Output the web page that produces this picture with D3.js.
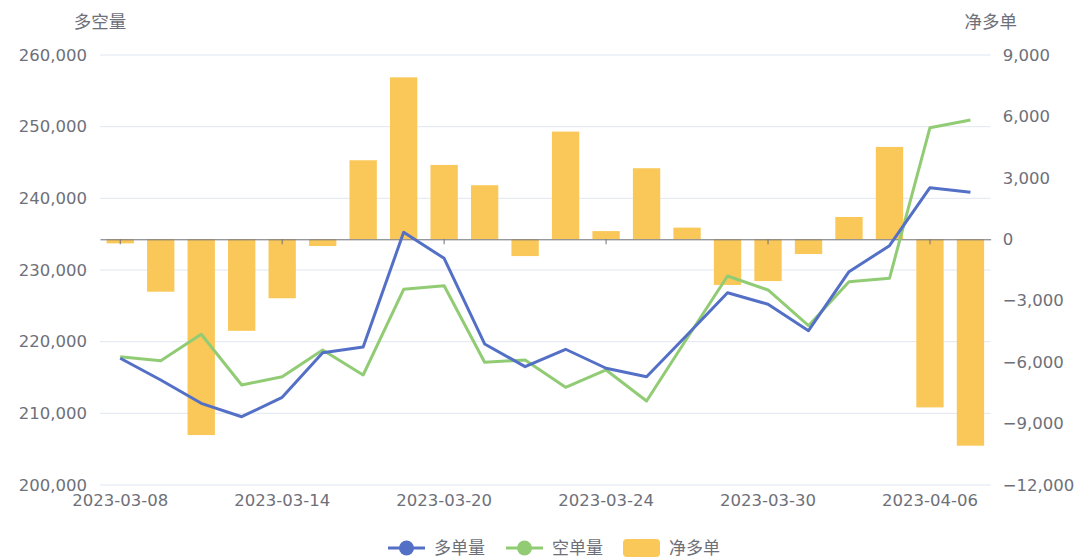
<!DOCTYPE html>
<html>
<head>
<meta charset="utf-8">
<script src="https://cdn.jsdelivr.net/npm/d3@7"></script>
<style>
  body { margin: 0; background: #fff; }
  #chart { width: 1074px; height: 559px; }
</style>
</head>
<body>
<div id="chart"></div>
<script>
// dates on the x axis (trading days)
const dates = ['2023-03-08', '2023-03-09', '2023-03-10', '2023-03-13', '2023-03-14', '2023-03-15',
  '2023-03-16', '2023-03-17', '2023-03-20', '2023-03-21', '2023-03-22', '2023-03-23',
  '2023-03-24', '2023-03-27', '2023-03-28', '2023-03-29', '2023-03-30', '2023-03-31',
  '2023-04-03', '2023-04-04', '2023-04-06', '2023-04-07'];

// 多单量 (left axis)
const longVol = [217680, 214650, 211400, 209530, 212240, 218460, 219260, 235260, 231630, 219680, 216510,
  218940, 216290, 215110, 220930, 226830, 225220, 221530, 229760, 233390, 241490, 240840];
// 空单量 (left axis)
const shortVol = [217900, 217350, 221030, 213950, 215110, 218840, 215350, 227310, 227810, 217120, 217440,
  213630, 216050, 211720, 220470, 229160, 227210, 222230, 228370, 228840, 249860, 250930];
// 净多单 (right axis)
const netLong = [-200, -2560, -9560, -4470, -2880, -330, 3860, 7910, 3630, 2640, -820,
  5260, 400, 3470, 570, -2230, -2040, -720, 1090, 4510, -8210, -10080];

const leftTicks = [200000, 210000, 220000, 230000, 240000, 250000, 260000];
const rightTicks = [-12000, -9000, -6000, -3000, 0, 3000, 6000, 9000];
const shownDates = dates.filter((d, i) => i % 4 === 0);

const gridL = 100, gridR = 990.7, gridT = 55, gridB = 485;
const gray = '#6E7079';
const numFont = 'DejaVu Sans, sans-serif';
const cjkFont = '"Noto Sans CJK SC", sans-serif';

const svg = d3.select('#chart').append('svg')
  .attr('width', 1074).attr('height', 559);

const x = d3.scaleBand().domain(dates).range([gridL, gridR]).padding(0);
const yL = d3.scaleLinear().domain([200000, 260000]).range([gridB, gridT]);
const yR = d3.scaleLinear().domain([-12000, 9000]).range([gridB, gridT]);
const cx = d => x(d) + x.bandwidth() / 2;

// grid lines
svg.append('g')
  .selectAll('line')
  .data(leftTicks)
  .join('line')
  .attr('x1', gridL).attr('x2', gridR)
  .attr('y1', d => yL(d)).attr('y2', d => yL(d))
  .attr('stroke', '#E0E6F1').attr('stroke-width', 1);

// left axis labels
const leftAxis = svg.append('g')
  .attr('transform', `translate(${gridL},0)`)
  .call(d3.axisLeft(yL).tickValues(leftTicks).tickFormat(d3.format(',')).tickSize(0).tickPadding(13));
leftAxis.select('.domain').remove();
leftAxis.selectAll('text').attr('fill', gray).style('font-family', numFont).style('font-size', '16.5px');

// right axis labels
const rightAxis = svg.append('g')
  .attr('transform', `translate(${gridR},0)`)
  .call(d3.axisRight(yR).tickValues(rightTicks).tickFormat(d3.format(',')).tickSize(0).tickPadding(12));
rightAxis.select('.domain').remove();
rightAxis.selectAll('text').attr('fill', gray).style('font-family', numFont).style('font-size', '16.5px');

// axis names
svg.append('text').attr('x', gridL).attr('y', 28).attr('text-anchor', 'middle')
  .attr('fill', gray).style('font-family', cjkFont).style('font-size', '17.5px').text('多空量');
svg.append('text').attr('x', gridR).attr('y', 28).attr('text-anchor', 'middle')
  .attr('fill', gray).style('font-family', cjkFont).style('font-size', '17.5px').text('净多单');

// bars
const barW = x.bandwidth() * 0.675;
svg.append('g')
  .selectAll('rect')
  .data(dates)
  .join('rect')
  .attr('x', d => cx(d) - barW / 2)
  .attr('width', barW)
  .attr('y', (d, i) => Math.min(yR(0), yR(netLong[i])))
  .attr('height', (d, i) => Math.abs(yR(netLong[i]) - yR(0)))
  .attr('fill', '#fac858');

// x axis line at zero with ticks
const zeroAxis = svg.append('g')
  .attr('transform', `translate(0,${yR(0)})`)
  .call(d3.axisBottom(x).tickValues(shownDates).tickFormat('').tickSize(5).tickSizeOuter(0));
zeroAxis.select('.domain').attr('stroke', gray);
zeroAxis.selectAll('line').attr('stroke', gray);

// x labels at bottom
const bottomAxis = svg.append('g')
  .attr('transform', `translate(0,${gridB})`)
  .call(d3.axisBottom(x).tickValues(shownDates).tickSize(0).tickPadding(9));
bottomAxis.select('.domain').remove();
bottomAxis.selectAll('text').attr('fill', gray).style('font-family', numFont).style('font-size', '16.5px');

// lines
const line = ys => d3.line().x((d, i) => cx(dates[i])).y(d => yL(d))(ys);
svg.append('path').attr('d', line(shortVol)).attr('fill', 'none')
  .attr('stroke', '#91cc75').attr('stroke-width', 3).attr('stroke-linejoin', 'round');
svg.append('path').attr('d', line(longVol)).attr('fill', 'none')
  .attr('stroke', '#5470c6').attr('stroke-width', 3).attr('stroke-linejoin', 'round');

// legend
const legendY = 548;
const legendItems = [
  { name: '多单量', color: '#5470c6', type: 'line', x: 388 },
  { name: '空单量', color: '#91cc75', type: 'line', x: 506 },
  { name: '净多单', color: '#fac858', type: 'rect', x: 623 }
];
const lg = svg.append('g').selectAll('g').data(legendItems).join('g')
  .attr('transform', d => `translate(${d.x},${legendY})`);
lg.filter(d => d.type === 'line').append('line')
  .attr('x1', 0).attr('x2', 37).attr('y1', 0).attr('y2', 0)
  .attr('stroke', d => d.color).attr('stroke-width', 3);
lg.filter(d => d.type === 'line').append('circle')
  .attr('cx', 18.5).attr('cy', 0).attr('r', 7.5).attr('fill', d => d.color);
lg.filter(d => d.type === 'rect').append('rect')
  .attr('x', 0).attr('y', -9).attr('width', 37).attr('height', 18).attr('rx', 4)
  .attr('fill', d => d.color);
lg.append('text').attr('x', 46).attr('y', 0).attr('dy', '0.35em')
  .attr('fill', gray).style('font-family', cjkFont).style('font-size', '17px')
  .text(d => d.name);
</script>
</body>
</html>
